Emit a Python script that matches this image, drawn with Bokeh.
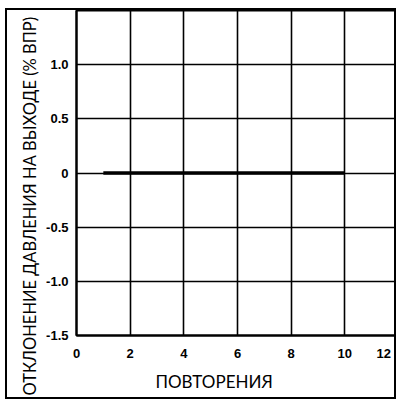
from bokeh.plotting import figure
from bokeh.models import Range1d, FixedTicker, Title
from bokeh.embed import file_html
from bokeh.resources import INLINE

# data
repetitions = [1, 10]
deviation = [0, 0]
x_ticks = [0, 2, 4, 6, 8, 10, 12]
x_tick_labels = ["0", "2", "4", "6", "8", "10", "12\u00a0"]
y_ticks = [-1.5, -1.0, -0.5, 0.0, 0.5, 1.0]
y_tick_labels = ["-1.5", "-1.0", "-0.5", "0", "0.5", "1.0"]
x_title = "ПОВТОРЕНИЯ"
y_title = "ОТКЛОНЕНИЕ ДАВЛЕНИЯ НА ВЫХОДЕ (% ВПР)"

W, H = 391, 391
p = figure(width=W, height=H, output_backend="svg", toolbar_location=None,
           x_range=Range1d(0, 12), y_range=Range1d(-1.5, 1.5),
           min_border_left=69, min_border_right=0, min_border_top=0, min_border_bottom=66)
p.styles = {"border": "2px solid black", "margin-left": "5px", "margin-top": "8px"}
p.background_fill_color = "white"
p.border_fill_color = "white"
p.outline_line_color = "black"
p.outline_line_width = 2

for ax in (p.xaxis[0], p.yaxis[0]):
    ax.axis_line_color = "black"
    ax.axis_line_width = 2
    ax.major_tick_out = 0
    ax.major_tick_in = 0
    ax.minor_tick_out = 0
    ax.minor_tick_in = 0
    ax.major_label_text_font = "Liberation Sans"
    ax.major_label_text_font_style = "bold"
    ax.major_label_text_font_size = "13px"
    ax.major_label_text_color = "black"

p.xaxis.ticker = FixedTicker(ticks=x_ticks)
p.xaxis.major_label_overrides = {t: l for t, l in zip(x_ticks, x_tick_labels)}
p.xaxis.major_label_standoff = 10
p.yaxis.ticker = FixedTicker(ticks=y_ticks)
p.yaxis.major_label_overrides = {t: l for t, l in zip(y_ticks, y_tick_labels)}
p.yaxis.major_label_standoff = 8

p.xgrid.ticker = FixedTicker(ticks=x_ticks)
p.ygrid.ticker = FixedTicker(ticks=y_ticks + [1.5])
for g in (p.xgrid[0], p.ygrid[0]):
    g.grid_line_color = "black"
    g.grid_line_width = 1.6
    g.grid_line_alpha = 1.0

p.line(repetitions, deviation, line_color="black", line_width=3.5)

p.add_layout(Title(text=x_title, align="left", offset=79, standoff=10,
                   text_font="Lato", text_font_size="17px", text_font_style="normal",
                   text_color="black"), "below")
p.add_layout(Title(text=y_title, align="left", offset=-60, standoff=8,
                   text_font="Lato", text_font_size="16.5px", text_font_style="normal",
                   text_color="black"), "left")

open("out.html", "w").write(file_html(p, INLINE))
